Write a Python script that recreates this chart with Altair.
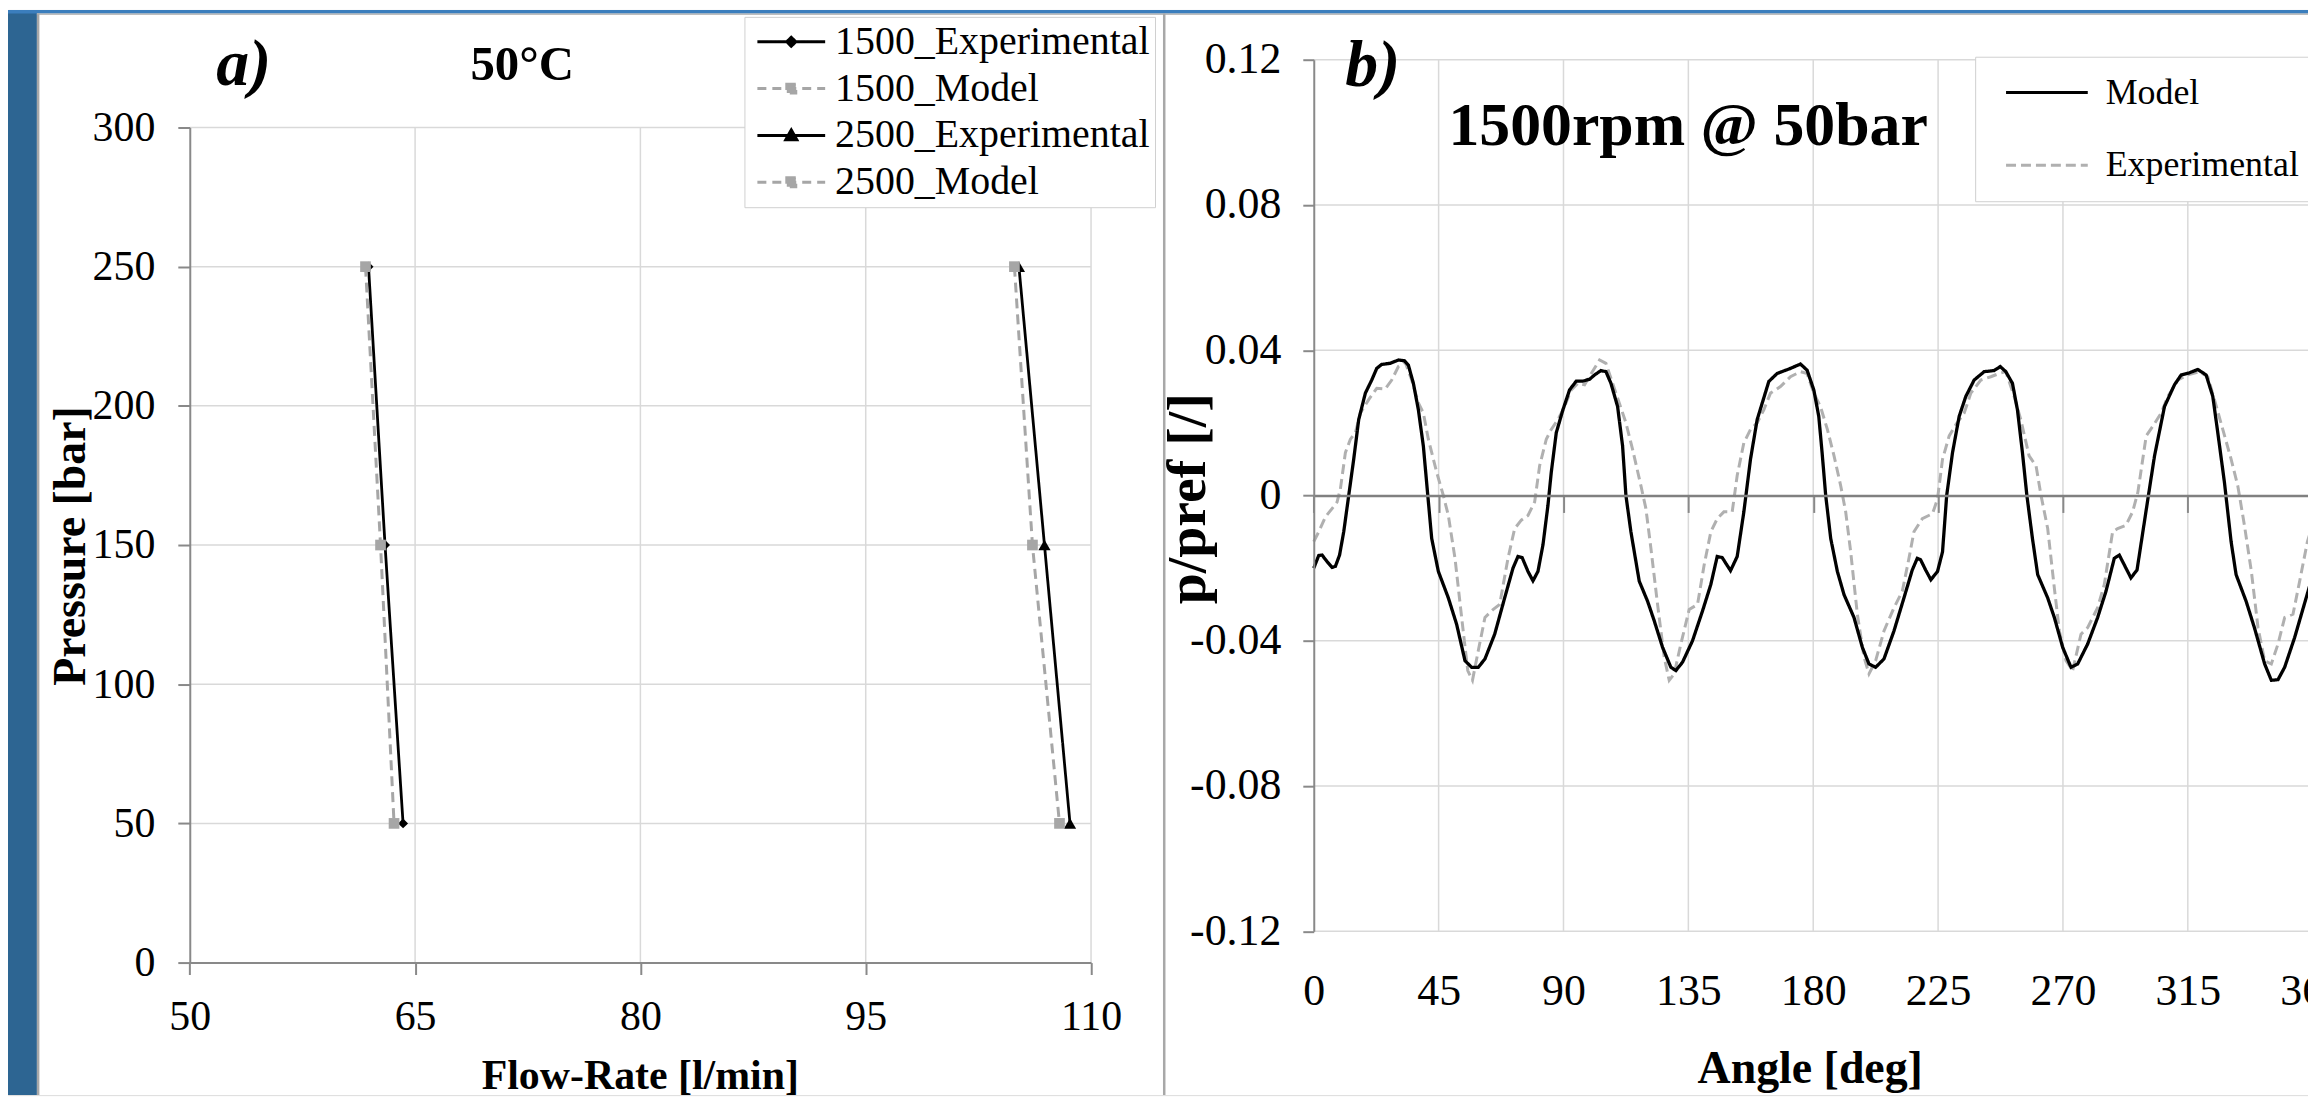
import altair as alt
import pandas as pd

# ---------------- data ----------------
PRESSURE = [250, 150, 50]
FLOW_1500_EXP = [61.9, 63.0, 64.2]
FLOW_1500_MOD = [61.7, 62.7, 63.6]
FLOW_2500_EXP = [105.2, 106.9, 108.6]
FLOW_2500_MOD = [104.9, 106.1, 107.9]
SERIES_A = ["1500_Experimental", "1500_Model", "2500_Experimental", "2500_Model"]
A_X_TICKS = [50, 65, 80, 95, 110]
A_Y_TICKS = [0, 50, 100, 150, 200, 250, 300]

MODEL_CURVE = [
    (0, -0.0200), (1.8, -0.0165), (3.0, -0.0164), (4.8, -0.0182), (6.6, -0.0198), (7.8, -0.0195),
    (9.3, -0.0164), (10.8, -0.0100), (12.6, 0.0000), (14.4, 0.0100), (16.2, 0.0209), (18.6, 0.0282),
    (20.9, 0.0318), (22.7, 0.0350), (24.5, 0.0361), (27.5, 0.0364), (30.5, 0.0373), (32.7, 0.0371),
    (34.1, 0.0359), (35.9, 0.0309), (37.7, 0.0236), (39.5, 0.0136), (41.1, 0.0000), (42.5, -0.0118),
    (44.9, -0.0209), (48.5, -0.0282), (51.5, -0.0355), (54.5, -0.0455), (56.9, -0.0473), (59.3, -0.0473),
    (61.7, -0.0450), (65.2, -0.0382), (68.8, -0.0282), (71.8, -0.0200), (73.6, -0.0168), (75.1, -0.0171),
    (77.2, -0.0209), (79.0, -0.0235), (80.8, -0.0209), (82.6, -0.0136), (84.4, -0.0027), (85.6, 0.0064),
    (87.4, 0.0173), (89.8, 0.0236), (92.2, 0.0291), (94.6, 0.0315), (97.0, 0.0315), (99.4, 0.0320),
    (101.2, 0.0332), (103.5, 0.0344), (105.3, 0.0341), (107.1, 0.0309), (109.5, 0.0245), (111.3, 0.0136),
    (112.5, 0.0000), (114.3, -0.0100), (117.3, -0.0236), (120.3, -0.0291), (122.7, -0.0345), (125.7, -0.0418),
    (128.7, -0.0473), (130.5, -0.0482), (132.9, -0.0459), (136.5, -0.0400), (140.1, -0.0318), (143.1, -0.0245),
    (145.4, -0.0168), (147.2, -0.0171), (150.2, -0.0207), (152.6, -0.0168), (155.0, -0.0045), (157.4, 0.0100),
    (159.8, 0.0209), (164.0, 0.0314), (167.0, 0.0336), (171.8, 0.0350), (175.4, 0.0362), (177.8, 0.0345),
    (180.2, 0.0291), (182.0, 0.0218), (183.2, 0.0118), (184.5, 0.0000), (186.3, -0.0118), (188.7, -0.0209),
    (191.1, -0.0273), (194.7, -0.0336), (197.7, -0.0418), (200.1, -0.0464), (202.5, -0.0473), (205.5, -0.0450),
    (209.1, -0.0373), (212.7, -0.0282), (215.7, -0.0205), (217.5, -0.0173), (218.7, -0.0177), (220.5, -0.0205),
    (222.4, -0.0232), (224.8, -0.0209), (226.6, -0.0155), (228.1, 0.0000), (230.2, 0.0118), (232.6, 0.0218),
    (235.0, 0.0273), (238.0, 0.0318), (241.6, 0.0341), (245.2, 0.0344), (247.4, 0.0355), (249.4, 0.0341),
    (251.8, 0.0309), (253.6, 0.0236), (255.4, 0.0118), (257.0, 0.0000), (259.0, -0.0118), (260.9, -0.0218),
    (264.5, -0.0282), (266.9, -0.0336), (269.9, -0.0418), (272.9, -0.0473), (275.3, -0.0464), (278.9, -0.0409),
    (282.5, -0.0336), (285.5, -0.0264), (288.5, -0.0173), (290.3, -0.0164), (292.1, -0.0191), (294.5, -0.0227),
    (296.7, -0.0205), (298.8, -0.0100), (300.8, 0.0000), (303.0, 0.0109), (306.6, 0.0245), (310.2, 0.0305),
    (312.6, 0.0332), (315.6, 0.0338), (318.6, 0.0347), (321.6, 0.0332), (324.0, 0.0273), (325.8, 0.0173),
    (328.2, 0.0036), (330.6, -0.0127), (332.4, -0.0218), (336.0, -0.0291), (339.0, -0.0364), (342.7, -0.0464),
    (345.1, -0.0509), (347.5, -0.0507), (349.9, -0.0473), (353.5, -0.0391), (358.1, -0.0270), (360.0, -0.0220),
]
EXP_CURVE = [
    (0, -0.0127), (1.8, -0.0100), (4.2, -0.0059), (6.6, -0.0036), (8.4, -0.0018), (9.6, 0.0018),
    (11.4, 0.0118), (13.2, 0.0155), (15.0, 0.0173), (16.8, 0.0227), (19.8, 0.0264), (22.7, 0.0295),
    (25.7, 0.0293), (28.1, 0.0318), (30.5, 0.0355), (32.9, 0.0368), (35.3, 0.0318), (37.7, 0.0255),
    (39.5, 0.0227), (41.3, 0.0155), (44.3, 0.0064), (46.7, 0.0), (48.5, -0.0055), (50.9, -0.0173),
    (53.3, -0.0336), (55.5, -0.0482), (57.2, -0.0509), (59.3, -0.0427), (61.7, -0.0336), (64.6, -0.0314),
    (67.0, -0.0300), (70.0, -0.0173), (72.4, -0.0091), (74.8, -0.0068), (77.2, -0.0055), (79.6, -0.0018),
    (81.4, 0.0082), (83.8, 0.0155), (85.6, 0.0182), (88.0, 0.0209), (90.4, 0.0245), (92.8, 0.0291),
    (95.2, 0.0309), (97.6, 0.0305), (100.0, 0.0336), (103.0, 0.0373), (105.3, 0.0364), (107.7, 0.0309),
    (110.1, 0.0255), (112.5, 0.0200), (114.9, 0.0127), (117.9, 0.0027), (119.7, -0.0036), (121.5, -0.0145),
    (123.9, -0.0300), (126.3, -0.0445), (128.1, -0.0509), (129.9, -0.0491), (132.3, -0.0409), (135.3, -0.0314),
    (138.3, -0.0300), (140.7, -0.0191), (143.1, -0.0100), (145.4, -0.0064), (147.8, -0.0045), (150.8, -0.0045),
    (152.6, 0.0055), (155.0, 0.0145), (157.4, 0.0182), (159.8, 0.0200), (162.2, 0.0236), (164.6, 0.0282),
    (168.2, 0.0300), (171.8, 0.0327), (175.4, 0.0341), (177.8, 0.0336), (180.2, 0.0282), (182.6, 0.0245),
    (185.1, 0.0182), (187.5, 0.0109), (189.9, 0.0027), (191.7, -0.0045), (193.5, -0.0155), (195.9, -0.0327),
    (198.3, -0.0445), (200.1, -0.0491), (202.5, -0.0455), (205.5, -0.0373), (209.1, -0.0309), (212.1, -0.0264),
    (214.5, -0.0173), (216.3, -0.0100), (219.3, -0.0064), (223.0, -0.0050), (224.8, -0.0009), (226.6, 0.0100),
    (229.0, 0.0164), (231.4, 0.0195), (234.4, 0.0227), (236.8, 0.0282), (240.4, 0.0318), (244.0, 0.0327),
    (247.0, 0.0336), (249.4, 0.0341), (252.4, 0.0273), (254.8, 0.0209), (257.8, 0.0109), (260.3, 0.0082),
    (262.1, 0.0), (264.5, -0.0091), (266.9, -0.0255), (268.7, -0.0373), (271.1, -0.0455), (273.5, -0.0482),
    (276.5, -0.0382), (278.9, -0.0364), (282.5, -0.0309), (284.9, -0.0245), (287.9, -0.0100), (289.7, -0.0091),
    (292.7, -0.0082), (295.1, -0.0045), (297.0, 0.0009), (300.0, 0.0164), (302.4, 0.0191), (305.4, 0.0227),
    (307.8, 0.0273), (311.4, 0.0318), (315.0, 0.0332), (319.2, 0.0341), (322.2, 0.0327), (324.6, 0.0264),
    (327.6, 0.0182), (330.6, 0.0100), (333.0, 0.0027), (335.4, -0.0082), (337.9, -0.0209), (340.3, -0.0364),
    (342.7, -0.0455), (345.1, -0.0464), (347.5, -0.0409), (349.9, -0.0336), (352.9, -0.0327), (355.3, -0.0236),
    (358.1, -0.0127), (360.0, -0.0080),
]
SERIES_B = ["Model", "Experimental"]
B_X_TICKS = [0, 45, 90, 135, 180, 225, 270, 315, 360]
B_Y_TICKS = [-0.12, -0.08, -0.04, 0, 0.04, 0.08, 0.12]

PANEL_TEXT = ["a)", "50°C", "b)", "1500rpm @ 50bar"]

# ---------------- layout / style ----------------
W, H = 2308, 1089
SERIF = "Liberation Serif"
BLUE = "#2d6592"
BLUE_TOP = "#3b7ebd"
BORDER = "#a8a8a8"
GRID = "#d9d9d9"
AXIS = "#898989"
GRAY_A = "#a6a6a6"
GRAY_B = "#b0b0b0"

AX0, AX1, AY0, AY1 = 182.4, 1086.8, 956.0, 118.0
BX0, BX1, BY0, BY1 = 1310.3, 2312.7, 924.6, 50.0
BZERO = BY0 - 0.5 * (BY0 - BY1)

sAx = alt.Scale(domain=[50, 110], range=[AX0, AX1], nice=False, zero=False)
sAy = alt.Scale(domain=[0, 300], range=[AY0, AY1], nice=False, zero=False)
sBx = alt.Scale(domain=[0, 360], range=[BX0, BX1], nice=False, zero=False)
sBy = alt.Scale(domain=[-0.12, 0.12], range=[BY0, BY1], nice=False, zero=False)

one = pd.DataFrame({"k": [0]})


def deco(x, x2, y, y2, color):
    return alt.Chart(one).mark_rect(fill=color).encode(
        x=alt.value(x), x2=alt.value(x2), y=alt.value(y), y2=alt.value(y2))


# slide frame: blue stripes and thin grey panel borders
decor = [
    deco(0, 29, 0, H, BLUE),
    deco(0, W, 0, 3.5, BLUE_TOP),
    deco(29, 31.5, 3.5, H, BORDER),
    deco(29, W, 3.5, 5, BORDER),
    deco(1159, 1161.5, 3.5, H, BORDER),
]

# ---------------- panel a ----------------
axA_y = alt.Axis(orient="left", offset=-AX0, values=A_Y_TICKS, grid=False, zindex=1,
                 domainColor=AXIS, domainWidth=2, tickColor=AXIS, tickWidth=2, tickSize=12,
                 labelPadding=23, labelFont=SERIF, labelFontSize=42, labelColor="black",
                 labelFlush=False, labelOverlap=False,
                 title="Pressure [bar]", titleFont=SERIF, titleFontSize=46, titleFontWeight="bold",
                 titleColor="black", titleX=63 - AX0, titleY=537.5, titleAngle=270,
                 titleBaseline="middle", titleAlign="center")
axA_x = alt.Axis(orient="bottom", offset=-(H - AY0), values=A_X_TICKS, grid=False, zindex=1,
                 domainColor=AXIS, domainWidth=2, tickColor=AXIS, tickWidth=2, tickSize=12,
                 labelPadding=42, labelBaseline="middle", labelFont=SERIF, labelFontSize=42,
                 labelColor="black", labelFlush=False, labelOverlap=False,
                 title="Flow-Rate [l/min]", titleFont=SERIF, titleFontSize=42, titleFontWeight="bold",
                 titleColor="black", titleX=634, titleY=126, titleBaseline="alphabetic",
                 titleAlign="center")

gridA_h = alt.Chart(pd.DataFrame({"v": A_Y_TICKS[1:]})).mark_rule(color=GRID, strokeWidth=1.5).encode(
    y=alt.Y("v:Q", scale=sAy, axis=axA_y),
    x=alt.XDatum(50, type="quantitative", scale=sAx, axis=axA_x),
    x2=alt.X2Datum(110))
gridA_v = alt.Chart(pd.DataFrame({"v": A_X_TICKS[1:]})).mark_rule(color=GRID, strokeWidth=1.5).encode(
    x=alt.X("v:Q", scale=sAx, axis=axA_x),
    y=alt.YDatum(0, type="quantitative", scale=sAy, axis=axA_y),
    y2=alt.Y2Datum(300))

series_a = [
    (FLOW_1500_EXP, "black", 2.8, [1, 0], "diamond", 100),
    (FLOW_1500_MOD, GRAY_A, 3, [10, 6], "square", 115),
    (FLOW_2500_EXP, "black", 2.8, [1, 0], "triangle-up", 150),
    (FLOW_2500_MOD, GRAY_A, 3, [10, 6], "square", 115),
]
layers_a = [gridA_h, gridA_v]
for flow, col, sw, dash, shp, sz in series_a:
    d = pd.DataFrame({"flow": flow, "pressure": PRESSURE, "o": list(range(len(flow)))})
    enc = dict(x=alt.X("flow:Q", scale=sAx, axis=axA_x), y=alt.Y("pressure:Q", scale=sAy, axis=axA_y))
    layers_a.append(alt.Chart(d).mark_line(color=col, strokeWidth=sw, strokeDash=dash).encode(
        order=alt.Order("o:Q"), **enc))
    layers_a.append(alt.Chart(d).mark_point(filled=True, shape=shp, size=sz, color=col, opacity=1).encode(**enc))

# legend symbols: line segment + marker, drawn as custom paths (unit = 10 px)
LEG_A = alt.Legend(title=None, orient="none", legendX=739, legendY=7, padding=5, zindex=2,
                   strokeColor="#d0d0d0", fillColor="white", labelFont=SERIF, labelFontSize=40,
                   labelColor="black", labelLimit=800, symbolSize=400, symbolStrokeWidth=3,
                   symbolOpacity=1, symbolOffset=22, labelOffset=24, rowPadding=7)
SYM_A = [
    "M-3.4,0H3.4M0,-0.45L0.45,0L0,0.45L-0.45,0Z",
    "M-3.4,0H3.4M-0.45,-0.45H0.45V0.45H-0.45Z",
    "M-3.4,0H3.4M0,-0.55L0.55,0.42H-0.55Z",
    "M-3.4,0H3.4M-0.45,-0.45H0.45V0.45H-0.45Z",
]
COL_A = ["black", GRAY_A, "black", GRAY_A]
DASH_A = [[1, 0], [9, 6], [1, 0], [9, 6]]
leg_a = alt.Chart(pd.DataFrame({"series": SERIES_A})).mark_point(
    filled=True, strokeWidth=3, size=400, opacity=1).encode(
    x=alt.value(-300), y=alt.value(-300),
    fill=alt.Fill("series:N", scale=alt.Scale(domain=SERIES_A, range=COL_A), legend=LEG_A),
    stroke=alt.Stroke("series:N", scale=alt.Scale(domain=SERIES_A, range=COL_A), legend=LEG_A),
    shape=alt.Shape("series:N", scale=alt.Scale(domain=SERIES_A, range=SYM_A), legend=LEG_A),
    strokeDash=alt.StrokeDash("series:N", scale=alt.Scale(domain=SERIES_A, range=DASH_A), legend=LEG_A),
)
layers_a.append(leg_a)
panel_a = alt.layer(*layers_a)

# ---------------- panel b ----------------
axB_y = alt.Axis(orient="left", offset=-BX0, values=B_Y_TICKS, grid=False, zindex=1,
                 domainColor=AXIS, domainWidth=2, tickColor=AXIS, tickWidth=2, tickSize=11,
                 labelPadding=22, labelFont=SERIF, labelFontSize=44, labelColor="black",
                 labelFlush=False, labelOverlap=False,
                 labelExpr="datum.value == 0 ? '0' : replace(format(datum.value, '.2f'), '\u2212', '-')",
                 title="p/pref [/]", titleFont=SERIF, titleFontSize=56, titleFontWeight="bold",
                 titleColor="black", titleX=1184 - BX0, titleY=490, titleAngle=270,
                 titleBaseline="middle", titleAlign="center")
axB_x = alt.Axis(orient="bottom", offset=-(H - BZERO), values=B_X_TICKS, grid=False, zindex=1,
                 domainColor="#808080", domainWidth=2.5, tickColor=AXIS, tickWidth=2, tickSize=17,
                 labelPadding=(985.4 - BZERO) - 17, labelBaseline="middle", labelFont=SERIF,
                 labelFontSize=44, labelColor="black", labelFlush=False, labelOverlap=False,
                 title="Angle [deg]", titleFont=SERIF, titleFontSize=46, titleFontWeight="bold",
                 titleColor="black", titleX=1808, titleY=1076 - BZERO, titleBaseline="alphabetic",
                 titleAlign="center")

gridB_h = alt.Chart(pd.DataFrame({"v": [t for t in B_Y_TICKS if t != 0]})).mark_rule(
    color=GRID, strokeWidth=1.5).encode(
    y=alt.Y("v:Q", scale=sBy, axis=axB_y),
    x=alt.XDatum(0, type="quantitative", scale=sBx, axis=axB_x),
    x2=alt.X2Datum(360))
gridB_v = alt.Chart(pd.DataFrame({"v": B_X_TICKS[1:]})).mark_rule(color=GRID, strokeWidth=1.5).encode(
    x=alt.X("v:Q", scale=sBx, axis=axB_x),
    y=alt.YDatum(-0.12, type="quantitative", scale=sBy, axis=axB_y),
    y2=alt.Y2Datum(0.12))

LEG_B = alt.Legend(title=None, orient="none", legendX=1974, legendY=47, padding=18, zindex=2,
                   strokeColor="#d0d0d0", fillColor="white", labelFont=SERIF, labelFontSize=36,
                   labelColor="black", labelLimit=800, symbolType="M-4.1,0H4.1", symbolSize=400,
                   symbolStrokeWidth=3, symbolOffset=36, labelOffset=41, rowPadding=37)
colB = alt.Scale(domain=SERIES_B, range=["black", GRAY_B])
dashB = alt.Scale(domain=SERIES_B, range=[[1, 0], [10, 5]])


def curve_df(pairs, name):
    return pd.DataFrame({"angle": [p[0] for p in pairs], "p": [p[1] for p in pairs], "series": name})


def curve_layer(df, sw):
    return alt.Chart(df).mark_line(strokeWidth=sw).encode(
        x=alt.X("angle:Q", scale=sBx, axis=axB_x),
        y=alt.Y("p:Q", scale=sBy, axis=axB_y),
        color=alt.Color("series:N", scale=colB, legend=LEG_B),
        strokeDash=alt.StrokeDash("series:N", scale=dashB, legend=LEG_B),
    )


exp_line = curve_layer(curve_df(EXP_CURVE, "Experimental"), 3)
mod_line = curve_layer(curve_df(MODEL_CURVE, "Model"), 3.3)
panel_b = alt.layer(gridB_h, gridB_v, exp_line, mod_line)


# ---------------- panel texts ----------------
def label(i, x, y, size, style, align):
    return alt.Chart(pd.DataFrame({"t": [PANEL_TEXT[i]]})).mark_text(
        font=SERIF, fontSize=size, fontWeight="bold", fontStyle=style, align=align,
        baseline="alphabetic", color="black").encode(text="t:N", x=alt.value(x), y=alt.value(y))


texts = [
    label(0, 209, 75, 66, "italic", "left"),
    label(1, 516, 70, 49, "normal", "center"),
    label(2, 1342, 76, 66, "italic", "left"),
    label(3, 1686, 136, 62, "normal", "center"),
]

chart = alt.layer(*decor, panel_a, panel_b, *texts).resolve_scale(
    x="independent", y="independent", color="independent", strokeDash="independent",
    fill="independent", stroke="independent", shape="independent",
).properties(
    width=W, height=H, autosize=alt.AutoSizeParams(type="none"), padding=0, background="white",
).configure_view(
    stroke=None
).configure_axis(
    labelFont=SERIF, titleFont=SERIF
).configure_legend(
    labelFont=SERIF
).configure_text(
    font=SERIF
).configure(
    font=SERIF
)

chart.save("out.html", embed_options={"renderer": "svg", "actions": False})
